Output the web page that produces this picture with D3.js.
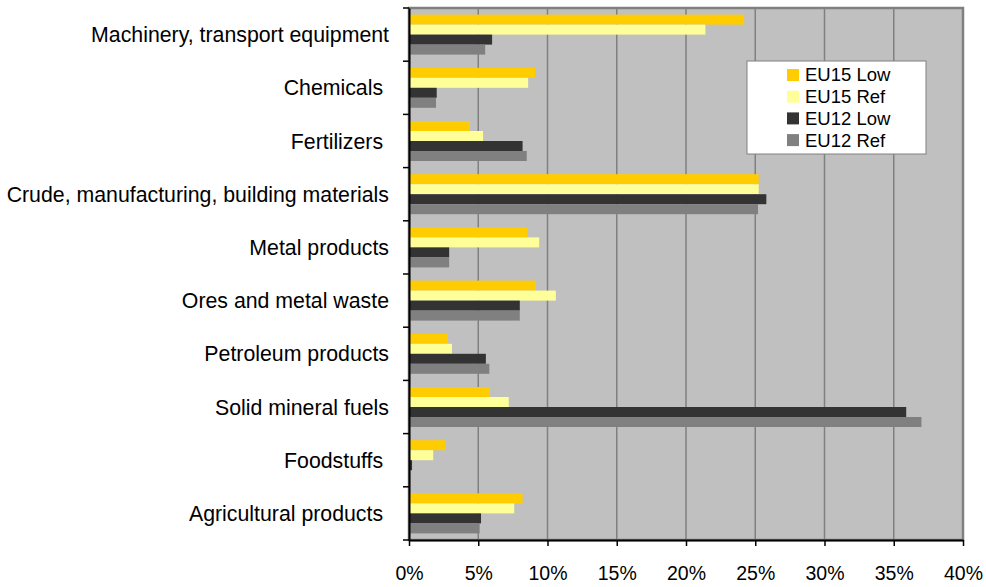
<!DOCTYPE html>
<html>
<head>
<meta charset="utf-8">
<script src="https://cdn.jsdelivr.net/npm/d3@7"></script>
<style>
  body { margin: 0; background: #fff; }
  svg text { font-family: "Liberation Sans", Arial, sans-serif; white-space: pre; }
</style>
</head>
<body>
<div class="chart"></div>
<script>
// categories, top to bottom (trailing spaces kept as in the source labels)
var categories = [
    "Machinery, transport equipment",
    "Chemicals ",
    "Fertilizers ",
    "Crude, manufacturing, building materials",
    "Metal products",
    "Ores and metal waste",
    "Petroleum products",
    "Solid mineral fuels",
    "Foodstuffs ",
    "Agricultural products "
];

var seriesNames = ["EU15 Low", "EU15 Ref", "EU12 Low", "EU12 Ref"];
var seriesColors = ["#FFCC00", "#FFFF99", "#333333", "#808080"];

// values in %
var eu15Low = [24.2, 9.1, 4.4, 25.25, 8.55, 9.15, 2.8, 5.85, 2.65, 8.2];
var eu15Ref = [21.4, 8.6, 5.35, 25.25, 9.4, 10.6, 3.1, 7.2, 1.75, 7.6];
var eu12Low = [6.0, 2.0, 8.2, 25.8, 2.9, 8.0, 5.55, 35.9, 0.22, 5.2];
var eu12Ref = [5.5, 1.95, 8.5, 25.2, 2.9, 8.0, 5.8, 37.0, 0.08, 5.1];

var xTicks = [0, 5, 10, 15, 20, 25, 30, 35, 40];

var margin = { top: 8, right: 23, bottom: 47, left: 409 },
    width = 986 - margin.left - margin.right,
    height = 587 - margin.top - margin.bottom;

var svg = d3.select(".chart")
    .append("svg")
    .attr("width", 986)
    .attr("height", 587)
    .append("g")
    .attr("transform", "translate(" + margin.left + "," + margin.top + ")");

var xScale = d3.scaleLinear().domain([0, 40]).range([0, width]);
var groupScale = d3.scaleBand().domain(categories).range([0, height]);
var seriesScale = d3.scaleBand().domain(seriesNames).range([0, groupScale.bandwidth()]).paddingOuter(0.66);

var allSeries = [eu15Low, eu15Ref, eu12Low, eu12Ref];

// plot area
svg.append("rect")
    .attr("width", width)
    .attr("height", height)
    .attr("fill", "#C0C0C0")
    .attr("stroke", "#808080")
    .attr("stroke-width", 2.5);

// vertical gridlines
svg.append("g")
    .selectAll("line")
    .data(xTicks.slice(1, -1))
    .join("line")
    .attr("x1", d => xScale(d))
    .attr("x2", d => xScale(d))
    .attr("y1", 0)
    .attr("y2", height)
    .attr("stroke", "#808080")
    .attr("stroke-width", 1.5);

// bars
seriesNames.forEach((name, si) => {
    svg.append("g")
        .selectAll("rect")
        .data(categories)
        .join("rect")
        .attr("x", 0)
        .attr("y", d => groupScale(d) + seriesScale(name))
        .attr("width", (d, i) => xScale(allSeries[si][i]))
        .attr("height", seriesScale.bandwidth())
        .attr("fill", seriesColors[si]);
});

// x axis
var xAxis = svg.append("g")
    .attr("transform", "translate(0," + height + ")")
    .call(d3.axisBottom(xScale).tickValues(xTicks).tickFormat(d => d + "%").tickSize(6).tickSizeOuter(0).tickPadding(20));
xAxis.selectAll("text").attr("font-size", 19.5).attr("fill", "#000");
xAxis.select(".domain").attr("stroke", "#000").attr("stroke-width", 2);
xAxis.selectAll(".tick line").attr("stroke", "#000").attr("stroke-width", 1.5);

// y axis: labels centered in bands, ticks on band edges
var yAxis = svg.append("g")
    .call(d3.axisLeft(groupScale).tickSize(0).tickPadding(20));
yAxis.select(".domain").attr("stroke", "#000").attr("stroke-width", 2);
yAxis.selectAll("text").attr("font-size", 21.3).attr("fill", "#000").attr("dy", "0.36em");

svg.append("g")
    .selectAll("line")
    .data(d3.range(categories.length + 1))
    .join("line")
    .attr("x1", -6)
    .attr("x2", 0)
    .attr("y1", d => d * groupScale.step())
    .attr("y2", d => d * groupScale.step())
    .attr("stroke", "#000")
    .attr("stroke-width", 1.5);

// legend
var legend = svg.append("g").attr("transform", "translate(" + (747 - margin.left) + "," + (61 - margin.top) + ")");
legend.append("rect")
    .attr("width", 179)
    .attr("height", 93)
    .attr("fill", "#fff")
    .attr("stroke", "#808080")
    .attr("stroke-width", 1);

seriesNames.forEach((name, i) => {
    var row = legend.append("g").attr("transform", "translate(40," + (14 + i * 21.7) + ")");
    row.append("rect")
        .attr("x", 0)
        .attr("y", -6)
        .attr("width", 12)
        .attr("height", 12)
        .attr("fill", seriesColors[i]);
    row.append("text")
        .attr("x", 18)
        .attr("y", 0)
        .attr("dy", "0.35em")
        .attr("font-size", 18.5)
        .text(name);
});
</script>
</body>
</html>
